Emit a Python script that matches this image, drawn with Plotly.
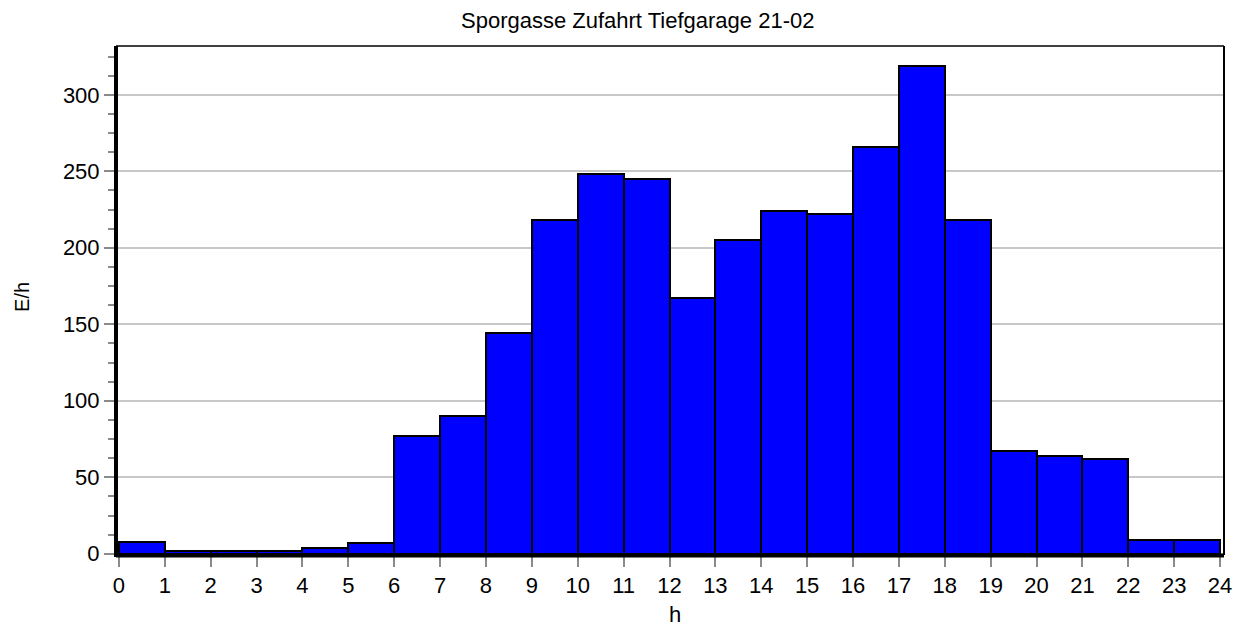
import plotly.graph_objects as go

# Hourly traffic volume (vehicles per hour) for each hour of the day
hours = list(range(24))
volumes = [8, 2, 2, 2, 4, 7, 77, 90, 144, 218, 248, 245, 167, 205, 224, 222,
           266, 319, 218, 67, 64, 62, 9, 9]
x_ticks = list(range(25))
y_ticks = [0, 50, 100, 150, 200, 250, 300]

title_text = "Sporgasse Zufahrt Tiefgarage 21-02"
x_title = "h"
y_title = "E/h"

FONT = "Liberation Sans, Arial, sans-serif"

fig = go.Figure()
fig.add_trace(go.Bar(
    x=[h + 0.5 for h in hours],
    y=volumes,
    width=1,
    marker=dict(color="#0000ff", line=dict(color="#000000", width=2)),
    hoverinfo="x+y",
))

fig.update_layout(
    width=1252, height=627,
    margin=dict(l=116, r=28, t=46, b=72),
    paper_bgcolor="white", plot_bgcolor="white",
    showlegend=False,
    bargap=0,
    font=dict(family=FONT, size=22, color="#000000"),
    xaxis=dict(
        range=[-0.065, 24.087],
        tickmode="array", tickvals=x_ticks, ticktext=[str(t) for t in x_ticks],
        ticks="outside", ticklen=11, tickwidth=1.5, tickcolor="#8a8a8a",
        showgrid=False, zeroline=False, showline=False,
        tickfont=dict(size=22),
    ),
    yaxis=dict(
        range=[-0.8, 331.9],
        tickmode="array", tickvals=y_ticks, ticktext=[str(t) for t in y_ticks],
        ticks="outside", ticklen=11, tickwidth=1.5, tickcolor="#8a8a8a",
        showgrid=True, gridcolor="#c8c8c8", gridwidth=1.8,
        zeroline=False, showline=False,
        tickfont=dict(size=22),
        minor=dict(tick0=0, dtick=12.5, ticks="outside", ticklen=7,
                   tickwidth=1.5, tickcolor="#8a8a8a", showgrid=False),
    ),
    shapes=[
        # thin frame on top and right
        dict(type="line", xref="paper", yref="paper", x0=0, x1=1, y0=1, y1=1,
             line=dict(color="#000000", width=1.6)),
        dict(type="line", xref="paper", yref="paper", x0=1, x1=1, y0=0, y1=1,
             line=dict(color="#000000", width=2)),
        # heavy axis lines on left and bottom
        dict(type="line", xref="paper", yref="paper", x0=0, x1=0, y0=-0.004, y1=1,
             line=dict(color="#000000", width=4)),
        dict(type="line", xref="paper", yref="paper", x0=0, x1=1, y0=-0.001, y1=-0.001,
             line=dict(color="#000000", width=4)),
    ],
    annotations=[
        dict(text=title_text, xref="paper", yref="paper", x=0.471, y=1,
             yshift=26, showarrow=False, xanchor="center", yanchor="middle",
             font=dict(size=22)),
        dict(text=x_title, xref="paper", yref="paper", x=0.5045, y=0,
             yshift=-59, showarrow=False, xanchor="center", yanchor="middle",
             font=dict(size=22)),
        dict(text=y_title, xref="paper", yref="paper", x=0, y=0.507,
             xshift=-94, showarrow=False, xanchor="center", yanchor="middle",
             textangle=-90, font=dict(size=20)),
    ],
)

fig.write_html("out.html")
